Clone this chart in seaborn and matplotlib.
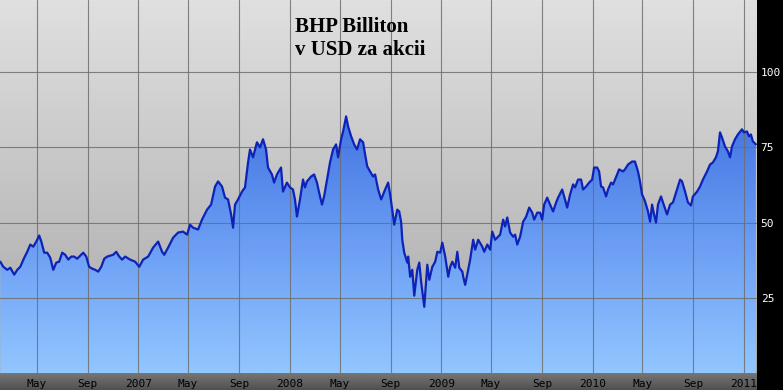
import numpy as np
import pandas as pd
import matplotlib
matplotlib.use("Agg")
import matplotlib.pyplot as plt
import matplotlib.dates as mdates
from matplotlib.ticker import FuncFormatter, FixedLocator
from matplotlib.colors import LinearSegmentedColormap
import seaborn as sns

# ---- data (decimal year, USD per share) ----
years = [
    2006.089, 2006.109, 2006.135, 2006.155, 2006.181, 2006.201, 2006.221, 2006.247, 2006.267, 2006.287,
    2006.307, 2006.327, 2006.346, 2006.360, 2006.379, 2006.399, 2006.419, 2006.439, 2006.459, 2006.478,
    2006.498, 2006.518, 2006.538, 2006.558, 2006.577, 2006.597, 2006.617, 2006.637, 2006.657, 2006.676,
    2006.696, 2006.716, 2006.736, 2006.756, 2006.776, 2006.795, 2006.815, 2006.835, 2006.855, 2006.875,
    2006.894, 2006.914, 2006.947, 2006.980, 2007.007, 2007.033, 2007.066, 2007.099, 2007.132, 2007.158,
    2007.172, 2007.198, 2007.231, 2007.264, 2007.297, 2007.323, 2007.343, 2007.363, 2007.396, 2007.422,
    2007.455, 2007.482, 2007.508, 2007.528, 2007.554, 2007.574, 2007.594, 2007.614, 2007.627, 2007.640,
    2007.660, 2007.686, 2007.706, 2007.726, 2007.739, 2007.759, 2007.785, 2007.805, 2007.825, 2007.845,
    2007.858, 2007.884, 2007.898, 2007.917, 2007.944, 2007.957, 2007.983, 2008.003, 2008.023, 2008.036,
    2008.049, 2008.069, 2008.089, 2008.102, 2008.115, 2008.142, 2008.162, 2008.181, 2008.195, 2008.214,
    2008.228, 2008.247, 2008.267, 2008.287, 2008.307, 2008.320, 2008.340, 2008.353, 2008.373, 2008.386,
    2008.406, 2008.426, 2008.445, 2008.465, 2008.485, 2008.498, 2008.512, 2008.531, 2008.551, 2008.564,
    2008.584, 2008.604, 2008.630, 2008.650, 2008.663, 2008.677, 2008.690, 2008.710, 2008.723, 2008.736,
    2008.743, 2008.756, 2008.776, 2008.782, 2008.795, 2008.809, 2008.822, 2008.842, 2008.855, 2008.868,
    2008.888, 2008.908, 2008.921, 2008.941, 2008.960, 2008.974, 2008.993, 2009.007, 2009.026, 2009.046,
    2009.059, 2009.073, 2009.092, 2009.106, 2009.119, 2009.139, 2009.145, 2009.158, 2009.178, 2009.191,
    2009.211, 2009.224, 2009.244, 2009.271, 2009.284, 2009.304, 2009.323, 2009.337, 2009.356, 2009.376,
    2009.389, 2009.409, 2009.422, 2009.436, 2009.455, 2009.475, 2009.488, 2009.502, 2009.521, 2009.541,
    2009.561, 2009.581, 2009.601, 2009.614, 2009.634, 2009.653, 2009.667, 2009.680, 2009.700, 2009.713,
    2009.739, 2009.759, 2009.772, 2009.799, 2009.812, 2009.832, 2009.851, 2009.871, 2009.884, 2009.904,
    2009.924, 2009.937, 2009.957, 2009.977, 2009.997, 2010.010, 2010.030, 2010.043, 2010.056, 2010.069,
    2010.089, 2010.102, 2010.122, 2010.135, 2010.162, 2010.175, 2010.201, 2010.214, 2010.234, 2010.261,
    2010.280, 2010.300, 2010.313, 2010.327, 2010.333, 2010.347, 2010.366, 2010.380, 2010.393, 2010.406,
    2010.419, 2010.432, 2010.452, 2010.465, 2010.492, 2010.512, 2010.531, 2010.558, 2010.578, 2010.591,
    2010.611, 2010.630, 2010.650, 2010.663, 2010.690, 2010.710, 2010.729, 2010.756, 2010.776, 2010.795,
    2010.815, 2010.828, 2010.842, 2010.855, 2010.875, 2010.894, 2010.908, 2010.921, 2010.941, 2010.960,
    2010.987, 2011.000, 2011.020, 2011.033, 2011.046, 2011.059, 2011.079,
]
price = [
    37.0, 35.3, 34.3, 35.0, 32.7, 34.3, 35.3, 38.3, 40.3, 42.7,
    42.0, 43.7, 45.7, 43.7, 40.0, 40.0, 38.3, 34.3, 36.7, 37.0,
    40.0, 39.3, 37.7, 38.7, 38.7, 38.0, 39.0, 40.0, 38.7, 35.3,
    34.7, 34.3, 33.7, 35.3, 38.0, 38.7, 39.0, 39.3, 40.3, 38.7,
    37.7, 38.7, 37.7, 37.0, 35.3, 37.7, 38.7, 41.7, 43.7, 40.3,
    39.3, 41.7, 45.0, 46.7, 47.0, 46.0, 49.3, 48.3, 47.7, 51.0,
    54.3, 56.0, 62.0, 63.7, 62.0, 58.3, 57.7, 52.7, 48.3, 56.0,
    57.7, 60.3, 61.7, 70.0, 74.3, 71.7, 76.7, 75.0, 77.7, 74.3,
    68.3, 66.0, 63.3, 66.0, 68.3, 60.3, 63.3, 61.7, 61.0, 57.7,
    52.0, 57.7, 64.3, 61.7, 63.7, 65.3, 66.0, 63.3, 60.0, 56.0,
    58.7, 64.3, 70.0, 74.3, 76.0, 71.7, 77.7, 80.3, 85.3, 82.0,
    78.7, 76.0, 74.3, 77.7, 76.7, 72.7, 68.7, 67.0, 65.3, 66.0,
    61.0, 57.7, 61.0, 63.3, 59.3, 54.3, 49.3, 54.3, 53.7, 50.0,
    44.3, 40.0, 36.7, 38.7, 32.0, 34.3, 25.7, 34.3, 36.7, 30.0,
    22.0, 36.0, 31.0, 35.3, 37.0, 40.3, 40.0, 43.3, 38.7, 32.0,
    35.3, 37.0, 35.0, 40.3, 35.0, 33.7, 32.0, 29.3, 34.3, 37.7,
    44.3, 41.0, 44.3, 42.0, 40.3, 42.7, 41.0, 47.0, 44.3, 45.3,
    46.0, 51.0, 48.7, 51.7, 46.7, 45.3, 46.0, 42.7, 45.3, 50.3,
    52.0, 55.0, 53.3, 51.0, 53.3, 53.3, 51.0, 56.0, 58.3, 56.7,
    53.7, 56.7, 58.3, 61.0, 58.7, 55.0, 59.3, 62.7, 61.7, 64.3,
    64.3, 61.0, 62.0, 63.3, 64.3, 68.3, 68.3, 67.0, 62.0, 61.7,
    58.7, 61.0, 63.3, 62.7, 66.0, 67.7, 67.0, 67.7, 69.3, 70.3,
    70.3, 67.0, 63.7, 59.3, 58.7, 57.0, 53.7, 50.3, 56.0, 52.7,
    50.0, 56.0, 58.7, 56.7, 52.7, 56.0, 56.7, 61.0, 64.3, 63.7,
    60.3, 56.7, 55.7, 58.7, 60.3, 62.0, 64.3, 67.0, 69.3, 70.0,
    71.7, 73.7, 80.0, 78.3, 75.3, 73.7, 71.7, 75.3, 77.7, 79.3,
    81.0, 80.0, 80.3, 78.7, 79.3, 77.0, 76.0,
]
title_lines = ["BHP Billiton", "v USD za akcii"]
y_ticks = [25, 50, 75, 100]
month_labels = {5: "May", 9: "Sep"}
tick_months = [1, 5, 9]


def to_date(y):
    yr = int(y)
    start = pd.Timestamp(yr, 1, 1)
    length = (pd.Timestamp(yr + 1, 1, 1) - start).days
    return start + pd.Timedelta(days=(y - yr) * length)


df = pd.DataFrame({"date": [to_date(y) for y in years], "price": price})

sns.set_theme(style="white")
W, H = 783, 390
fig = plt.figure(figsize=(W / 100, H / 100), dpi=100)
fig.patch.set_facecolor("black")

plot_right = 756.5 / W
bar_h = 17 / H

# bottom gray bar
bar = fig.add_axes([0, 0, plot_right, bar_h])
bar.imshow(np.linspace(0, 1, 50).reshape(-1, 1),
           cmap=LinearSegmentedColormap.from_list("bar", ["#767676", "#505050"]),
           aspect="auto", extent=[0, 1, 0, 1])
bar.set_axis_off()

ax = fig.add_axes([0, bar_h, plot_right, 1 - bar_h])
ax.set_facecolor("#c8c8c8")

xmin = mdates.date2num(to_date(2006.087))
xmax = mdates.date2num(to_date(2011.083))
ymax = 124.0

# gray background gradient
grad = np.linspace(1, 0, 256).reshape(-1, 1)
ax.imshow(grad, cmap=LinearSegmentedColormap.from_list("bg", ["#a8a8a8", "#e0e0e0"]),
          aspect="auto", extent=[xmin, xmax, 0, ymax], origin="upper", zorder=0)

# blue fill gradient clipped to the area under the line
poly = ax.fill_between(df["date"], df["price"], 0, color="none", lw=0)
im = ax.imshow(grad, cmap=LinearSegmentedColormap.from_list(
    "fill", ["#92c6ff", "#6c9ff4", "#4677e4", "#2c58d2"]),
    aspect="auto", extent=[xmin, xmax, 0, ymax], origin="upper", zorder=1)
im.set_clip_path(poly.get_paths()[0], transform=ax.transData)

sns.lineplot(data=df, x="date", y="price", color="#0d22b8", lw=1.6, ax=ax, zorder=3)

ax.set_xlim(xmin, xmax)
ax.set_ylim(0, ymax)
ax.set_xlabel("")
ax.set_ylabel("")
for s in ax.spines.values():
    s.set_visible(False)

ax.xaxis.set_major_locator(mdates.MonthLocator(bymonth=tick_months))


def fmt(x, pos):
    d = mdates.num2date(x)
    return month_labels.get(d.month, str(d.year))


ax.xaxis.set_major_formatter(FuncFormatter(fmt))
ax.yaxis.set_major_locator(FixedLocator(y_ticks))
ax.yaxis.tick_right()
ax.tick_params(axis="x", length=0, pad=4.0, labelsize=8, labelcolor="black")
ax.tick_params(axis="y", length=0, pad=3.0, labelsize=8, labelcolor="white")
for lab in ax.get_xticklabels() + ax.get_yticklabels():
    lab.set_family("DejaVu Sans Mono")

ax.set_axisbelow("line")
ax.grid(True, color="#6e6e6e", lw=0.8, alpha=0.85)
for gl in ax.get_xgridlines() + ax.get_ygridlines():
    gl.set_zorder(2)

fig.text(295 / W, 1 - 32 / H, title_lines[0], family="Liberation Serif", weight="bold",
         fontsize=15, color="black", ha="left", va="baseline")
fig.text(295 / W, 1 - 55 / H, title_lines[1], family="Liberation Serif", weight="bold",
         fontsize=15, color="black", ha="left", va="baseline")

fig.savefig("out.png", dpi=100, facecolor=fig.get_facecolor())
